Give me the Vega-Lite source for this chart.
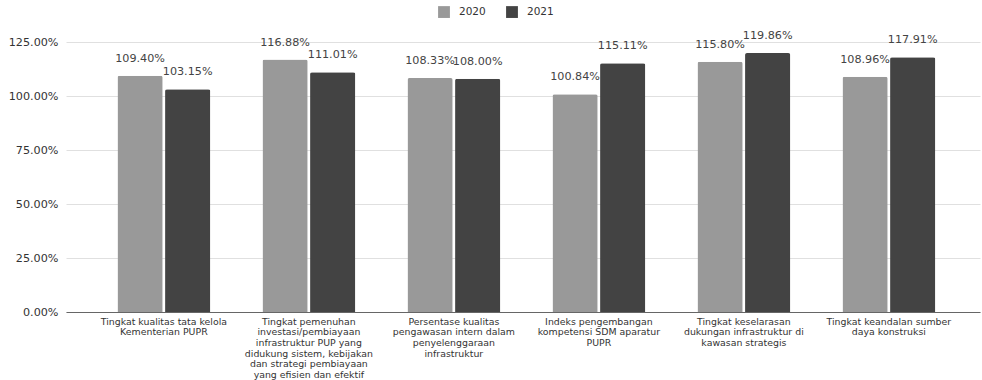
{
  "$schema": "https://vega.github.io/schema/vega-lite/v6.json",
  "autosize": "none",
  "width": 914,
  "height": 270,
  "padding": {"left": 66, "top": 42, "right": 2, "bottom": 68},
  "config": {
    "view": {"stroke": null},
    "font": "DejaVu Sans",
    "axis": {"labelFont": "DejaVu Sans", "labelColor": "#333333"},
    "legend": {"labelFont": "DejaVu Sans"}
  },
  "data": {
    "values": [
      {"category": "Tingkat kualitas tata kelola\nKementerian PUPR", "year": "2020", "value": 1.094},
      {"category": "Tingkat kualitas tata kelola\nKementerian PUPR", "year": "2021", "value": 1.0315},
      {"category": "Tingkat pemenuhan\ninvestasi/pembiayaan\ninfrastruktur PUP yang\ndidukung sistem, kebijakan\ndan strategi pembiayaan\nyang efisien dan efektif", "year": "2020", "value": 1.1688},
      {"category": "Tingkat pemenuhan\ninvestasi/pembiayaan\ninfrastruktur PUP yang\ndidukung sistem, kebijakan\ndan strategi pembiayaan\nyang efisien dan efektif", "year": "2021", "value": 1.1101},
      {"category": "Persentase kualitas\npengawasan intern dalam\npenyelenggaraan\ninfrastruktur", "year": "2020", "value": 1.0833},
      {"category": "Persentase kualitas\npengawasan intern dalam\npenyelenggaraan\ninfrastruktur", "year": "2021", "value": 1.08},
      {"category": "Indeks pengembangan\nkompetensi SDM aparatur\nPUPR", "year": "2020", "value": 1.0084},
      {"category": "Indeks pengembangan\nkompetensi SDM aparatur\nPUPR", "year": "2021", "value": 1.1511},
      {"category": "Tingkat keselarasan\ndukungan infrastruktur di\nkawasan strategis", "year": "2020", "value": 1.158},
      {"category": "Tingkat keselarasan\ndukungan infrastruktur di\nkawasan strategis", "year": "2021", "value": 1.1986},
      {"category": "Tingkat keandalan sumber\ndaya konstruksi", "year": "2020", "value": 1.0896},
      {"category": "Tingkat keandalan sumber\ndaya konstruksi", "year": "2021", "value": 1.1791}
    ]
  },
  "encoding": {
    "x": {
      "field": "category",
      "type": "nominal",
      "sort": null,
      "scale": {"paddingInner": 0.36, "paddingOuter": 0.3317, "align": 0.535},
      "axis": {
        "title": null,
        "labelAngle": 0,
        "labelExpr": "split(datum.label, '\\n')",
        "labelFontSize": 9.4,
        "labelLineHeight": 10.7,
        "labelPadding": 5,
        "labelBaseline": "top",
        "labelLimit": 300,
        "ticks": false,
        "domain": true,
        "domainColor": "#666666",
        "domainWidth": 1,
        "grid": false
      }
    },
    "xOffset": {"field": "year", "type": "nominal", "scale": {"paddingInner": 0.05}},
    "y": {
      "field": "value",
      "type": "quantitative",
      "scale": {"domain": [0, 1.25], "nice": false},
      "axis": {
        "title": null,
        "values": [0, 0.25, 0.5, 0.75, 1, 1.25],
        "format": ".2%",
        "grid": true,
        "gridColor": "#e0e0e0",
        "gridWidth": 1,
        "domain": false,
        "ticks": false,
        "labelPadding": 8,
        "labelFontSize": 11.2
      }
    }
  },
  "layer": [
    {
      "mark": {"type": "bar", "cornerRadiusTopLeft": 2, "cornerRadiusTopRight": 2},
      "encoding": {
        "color": {
          "field": "year",
          "type": "nominal",
          "scale": {"domain": ["2020", "2021"], "range": ["#999999", "#434343"]},
          "legend": {
            "title": null,
            "orient": "none",
            "legendX": 372,
            "legendY": -36,
            "direction": "horizontal",
            "symbolType": "square",
            "symbolSize": 140,
            "symbolStrokeWidth": 0,
            "labelFontSize": 10.5,
            "labelColor": "#333333",
            "labelOffset": 9,
            "columnPadding": 20
          }
        }
      }
    },
    {
      "mark": {"type": "text", "baseline": "alphabetic", "dy": -14, "fontSize": 11.2, "color": "#444444"},
      "encoding": {
        "text": {"field": "value", "type": "quantitative", "format": ".2%"}
      }
    }
  ]
}
